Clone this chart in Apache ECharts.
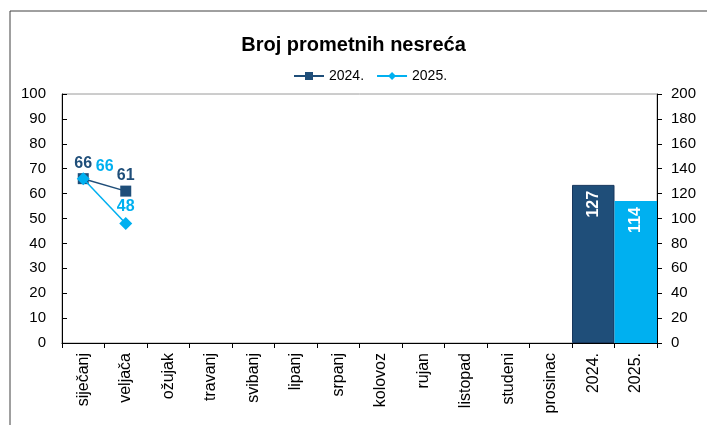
<!DOCTYPE html>
<html>
<head>
<meta charset="utf-8">
<script src="https://cdn.jsdelivr.net/npm/echarts@6/dist/echarts.min.js"></script>
<style>
	html, body { margin: 0; padding: 0; background: #fff; }
	#chart { width: 707px; height: 425px; }
</style>
</head>
<body>
<div id="chart"></div>
<script>
const categories = ['siječanj', 'veljača', 'ožujak', 'travanj', 'svibanj', 'lipanj', 'srpanj',
	'kolovoz', 'rujan', 'listopad', 'studeni', 'prosinac', '2024.', '2025.'];
const monthly2024 = [66, 61];
const monthly2025 = [66, 48];
const totalCategories = ['2024.', '2025.'];
const totals = [127, 114];

const colors = {
	dark: '#1F4E79',
	light: '#00B0F0',
	text: '#000000'
};

const chart = echarts.init(document.querySelector('#chart'));

const font = 'Liberation Sans';

const lineData = values => categories.map((c, i) => (i < values.length ? values[i] : null));

const barData = categories.map(c => {
	const idx = totalCategories.indexOf(c);
	if (idx < 0) return null;
	return {
		value: totals[idx],
		itemStyle: idx === 0
			? { color: colors.dark, borderColor: '#17375E', borderWidth: 1 }
			: { color: colors.light }
	};
});

const data2025 = lineData(monthly2025).map((v, i) => {
	if (i === 0) {
		return { value: v, label: { position: 'right', offset: [4, -12] } };
	}
	return v;
});

const option = {
	animation: false,
	textStyle: { fontFamily: font },
	title: {
		text: 'Broj prometnih nesreća',
		left: 'center',
		top: 30,
		textStyle: { fontSize: 20, fontWeight: 'bold', color: colors.text, fontFamily: font }
	},
	legend: {
		data: ['2024.', '2025.'],
		top: 64,
		left: 288,
		itemWidth: 30,
		itemHeight: 10,
		itemGap: 12,
		textStyle: { fontSize: 14, color: colors.text, fontFamily: font }
	},
	graphic: [{
		type: 'rect',
		shape: { x: 10, y: 11, width: 720, height: 440 },
		style: { fill: 'none', stroke: '#404040', lineWidth: 1 },
		silent: true
	}],
	grid: {
		left: 62,
		right: 50,
		top: 94,
		bottom: 82,
		show: true,
		borderColor: '#9a9a9a',
		borderWidth: 1
	},
	xAxis: {
		type: 'category',
		data: categories,
		boundaryGap: true,
		axisLine: { lineStyle: { color: '#000', width: 1 } },
		axisTick: { show: true, length: 5, lineStyle: { color: '#000' } },
		axisLabel: {
			rotate: 90,
			interval: 0,
			fontSize: 16,
			color: colors.text,
			fontFamily: font,
			margin: 10
		}
	},
	yAxis: [
		{
			type: 'value',
			min: 0,
			max: 100,
			interval: 10,
			splitLine: { show: false },
			axisLine: { show: true, lineStyle: { color: '#000' } },
			axisTick: { show: true, inside: true, length: 5, lineStyle: { color: '#000' } },
			axisLabel: { fontSize: 15, color: colors.text, fontFamily: font, margin: 16 }
		},
		{
			type: 'value',
			min: 0,
			max: 200,
			interval: 20,
			position: 'right',
			splitLine: { show: false },
			axisLine: { show: true, lineStyle: { color: '#000' } },
			axisTick: { show: true, length: 5, lineStyle: { color: '#000' } },
			axisLabel: { fontSize: 15, color: colors.text, fontFamily: font, margin: 14 }
		}
	],
	series: [
		{
			name: 'Ukupno',
			type: 'bar',
			yAxisIndex: 1,
			barWidth: '100%',
			data: barData,
			z: 1,
			label: {
				show: true,
				position: 'insideTop',
				rotate: 90,
				align: 'right',
				verticalAlign: 'middle',
				distance: 6,
				color: '#fff',
				fontSize: 16,
				fontWeight: 'bold',
				fontFamily: font
			}
		},
		{
			name: '2024.',
			type: 'line',
			data: lineData(monthly2024),
			symbol: 'rect',
			symbolSize: 11,
			color: colors.dark,
			lineStyle: { width: 1.5, color: colors.dark },
			z: 3,
			label: {
				show: true,
				position: 'top',
				distance: 2,
				color: colors.dark,
				fontSize: 16,
				fontWeight: 'bold',
				fontFamily: font
			}
		},
		{
			name: '2025.',
			type: 'line',
			data: data2025,
			symbol: 'diamond',
			symbolSize: 13,
			color: colors.light,
			lineStyle: { width: 1.5, color: colors.light },
			z: 4,
			label: {
				show: true,
				position: 'top',
				distance: 2,
				color: colors.light,
				fontSize: 16,
				fontWeight: 'bold',
				fontFamily: font
			}
		}
	]
};

chart.setOption(option);
</script>
</body>
</html>
